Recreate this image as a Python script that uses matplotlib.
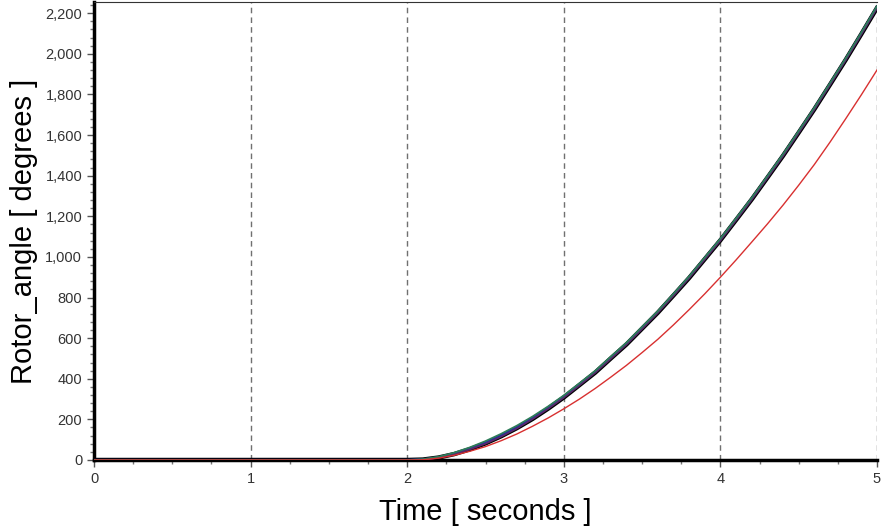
import matplotlib.pyplot as plt
from matplotlib.ticker import MultipleLocator, FuncFormatter

plt.rcParams['font.family'] = ['Liberation Sans', 'DejaVu Sans']

# tempo (s) e ângulo do rotor (graus) para cada simulação
tempo = [0.0, 2.0, 2.1, 2.2, 2.3, 2.4, 2.5, 2.6, 2.7, 2.8, 2.9, 3.0,
         3.1, 3.2, 3.3, 3.4, 3.5, 3.6, 3.7, 3.8, 3.9, 4.0,
         4.1, 4.2, 4.3, 4.4, 4.5, 4.6, 4.7, 4.8, 4.9, 5.0]

ang_preto = [0, 0, 2, 12, 29, 53, 82, 117, 157, 202, 253, 308,
             369, 430, 500, 569, 647, 725, 810, 896, 989, 1082,
             1182, 1283, 1390, 1498, 1612, 1727, 1848, 1970, 2097, 2226]
ang_azul = [0, 0, 3, 13, 31, 56, 86, 121, 161, 206, 257, 312,
            373, 434, 504, 573, 651, 729, 814, 900, 993, 1086,
            1186, 1287, 1394, 1502, 1616, 1731, 1852, 1974, 2101, 2231]
ang_roxo = [0, 0, 2, 11, 28, 52, 80, 115, 155, 201, 252, 307,
            367, 429, 498, 568, 645, 724, 808, 895, 987, 1080,
            1180, 1281, 1388, 1496, 1610, 1725, 1846, 1968, 2095, 2224]
ang_verde = [0, 0, 4, 16, 36, 62, 93, 129, 169, 214, 264, 318,
             378, 439, 509, 578, 656, 733, 818, 904, 997, 1090,
             1190, 1291, 1398, 1506, 1620, 1735, 1856, 1978, 2105, 2235]
ang_vermelho = [0, 0, 1, 9, 23, 43, 66, 95, 128, 166, 207, 252,
                300, 352, 408, 466, 529, 594, 665, 740, 818, 900,
                985, 1073, 1162, 1255, 1353, 1455, 1565, 1680, 1798, 1920]

fig = plt.figure(figsize=(8.83, 5.28), dpi=100)
ax = fig.add_axes([0.1065, 0.1288, 0.8867, 0.8674])

ax.plot(tempo, ang_preto, color='black', lw=3.2, zorder=3)
ax.plot(tempo, ang_azul, color='#2020b0', lw=1.6, zorder=4)
ax.plot(tempo, ang_roxo, color='#5a2a6a', lw=1.2, zorder=4)
ax.plot(tempo, ang_verde, color='#2e7d5a', lw=1.3, zorder=5)
ax.plot(tempo, ang_vermelho, color='#d83030', lw=1.0, zorder=5)

ax.set_xlim(0, 5)
ax.set_ylim(0, 2255)

# grade vertical tracejada só nos inteiros
for xv in [1, 2, 3, 4, 5]:
    ax.axvline(xv, color='#707070', lw=1, ls=(0, (4, 3)), zorder=1)

ax.xaxis.set_major_locator(MultipleLocator(1))
ax.xaxis.set_minor_locator(MultipleLocator(0.25))
ax.yaxis.set_major_locator(MultipleLocator(200))
ax.yaxis.set_minor_locator(MultipleLocator(40))
ax.yaxis.set_major_formatter(FuncFormatter(lambda v, p: f'{int(v):,}'))

ax.tick_params(which='major', length=5, width=1, color='#555555',
               labelsize=10.5, labelcolor='#333333')
ax.tick_params(which='minor', length=3, width=1, color='#777777')

ax.spines['left'].set_linewidth(2.5)
ax.spines['bottom'].set_linewidth(2.5)
ax.spines['right'].set_visible(False)
ax.spines['top'].set_linewidth(0.8)
ax.spines['top'].set_color('#333333')

ax.set_xlabel('Time [ seconds ]', fontsize=21, labelpad=9)
ax.set_ylabel('Rotor_angle [ degrees ]', fontsize=21, labelpad=5)

fig.savefig('out.png', dpi=100)
